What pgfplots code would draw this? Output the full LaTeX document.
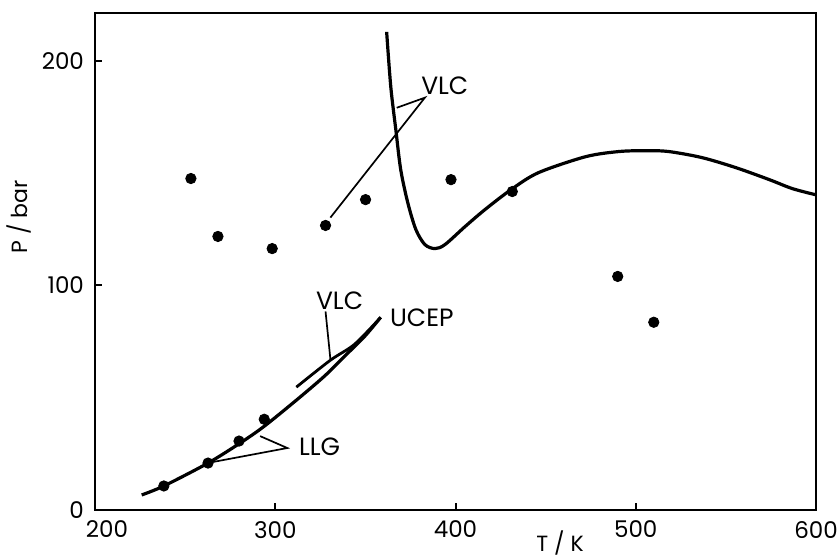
\documentclass[border=0pt]{standalone}
\usepackage{fontspec}
\setmainfont{Poppins}
\usepackage{pgfplots}
\pgfplotsset{compat=1.18}

\begin{document}
\begin{tikzpicture}
\useasboundingbox (-47.5pt,-24pt) rectangle (372.5pt,255pt);

\begin{axis}[
at={(0pt,0pt)}, anchor=south west,
width=360.5pt,
height=248.5pt,
scale only axis,
xmin=200, xmax=600,
ymin=0, ymax=221.3,
xtick={200,300,400,500,600},
xticklabels={\hspace*{12pt}200,300,400,500,600},
ytick={0,100,200},
tick align=inside,
tick pos=left,
major tick length=3.5pt,
axis line style={line width=1.2pt},
every tick/.style={line width=1pt, black},
tick label style={font=\fontsize{11.5}{13}\selectfont},
/pgf/number format/assume math mode=true,
xticklabel style={yshift=-2pt, inner xsep=0pt},
yticklabel style={xshift=-2pt},
label style={font=\fontsize{11}{13}\selectfont},
xlabel={T / K},
ylabel={P / bar},
xlabel style={at={(axis description cs:0.645,-0.066)}, anchor=center},
ylabel style={at={(axis description cs:-0.105,0.59)}, anchor=center},
clip=false,
]

% VLC, upper branch
\addplot [line width=1.6pt, smooth, tension=0.5] coordinates {
(361.8,212.9) (364.1,188.4) (366.9,169.3) (369.6,151.6) (373.5,136.9)
(378.0,124.9) (383.0,118.2) (388.6,116.4) (394.2,118.2) (405.3,126.2)
(416.4,133.8) (430.9,142.7) (446.0,150.2) (472.1,157.3) (490.5,159.6)
(505.6,160.0) (518.4,159.6) (536.8,156.9) (555.7,152.4) (574.1,147.1)
(586.9,143.1) (599.7,140.4)
};

% LLG
\addplot [line width=1.6pt, smooth] coordinates {
(225.9,6.7) (238.2,10.7) (262.7,20.9) (280.5,29.8) (293.9,37.3)
(312.3,49.3) (327.3,59.6) (338.4,68.4) (349.6,77.3) (358.5,85.8)
};

% VLC, lower branch
\addplot [line width=1.4pt, smooth] coordinates {
(311.7,54.7) (330.6,66.7) (344.0,73.8) (358.5,85.8)
};

% measured points
\addplot [only marks, mark=*, mark size=2.6pt] coordinates {
(238.2,10.7) (262.7,20.9) (279.9,30.7) (293.9,40.4)
(253.2,147.6) (268.2,121.8) (298.3,116.4) (327.9,126.7) (350.1,138.2)
(397.5,147.1) (431.5,141.8) (490.0,104.0) (510.0,83.6)
};

% leaders and labels
\draw [line width=0.85pt] (axis cs:367.4,179.1) -- (axis cs:383.0,183.6) -- (axis cs:330.6,130.2);
\node [anchor=west, inner sep=0pt, font=\fontsize{12.5}{14}\selectfont] at (axis cs:380.8,188.9) {VLC};

\draw [line width=0.85pt] (axis cs:327.9,88.4) -- (axis cs:330.6,67.1);
\node [font=\fontsize{12.5}{14}\selectfont] at (axis cs:335.7,93.3) {VLC};

\node [anchor=west, inner sep=0pt, font=\fontsize{12.5}{14}\selectfont] at (axis cs:363.5,85.8) {UCEP};

\draw [line width=0.85pt] (axis cs:291.6,32.9) -- (axis cs:306.7,27.6) -- (axis cs:264.9,21.3);
\node [anchor=west, inner sep=0pt, font=\fontsize{12.5}{14}\selectfont] at (axis cs:313.0,28.0) {LLG};

\end{axis}
\end{tikzpicture}
\end{document}
